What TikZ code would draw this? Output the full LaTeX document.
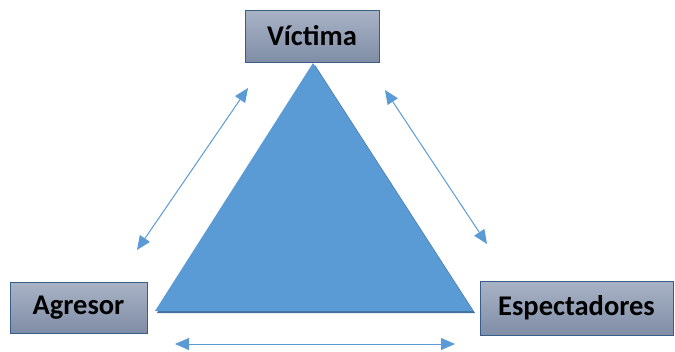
\documentclass[tikz,border=0pt]{standalone}
\usepackage{fontspec}
\setmainfont{Carlito}
\usepackage{tikz}
\usetikzlibrary{arrows.meta}
\definecolor{triblue}{HTML}{5B9BD5}
\definecolor{tridark}{HTML}{41719C}
\definecolor{boxtop}{HTML}{A9B3C6}
\definecolor{boxbot}{HTML}{7F8DA6}
\definecolor{boxline}{HTML}{385D8A}
\tikzstyle{rolebox} = [draw=boxline, line width=0.8pt, top color=boxtop, bottom color=boxbot, inner sep=0pt, font=\bfseries\fontsize{28.5}{32}\selectfont]
\tikzstyle{arrow} = [triblue, line width=1pt, {Triangle[length=14pt,width=12pt]}-{Triangle[length=14pt,width=12pt]}]

\begin{document}
\begin{tikzpicture}[x=1pt,y=-1pt]
\useasboundingbox (0,0) rectangle (675,351);

% triangle
\coordinate (top) at (313,63);
\coordinate (left) at (155,311);
\coordinate (right) at (473,311);
\fill[tridark] ([shift={(2,2)}]top) -- ([shift={(2,2)}]right) -- ([shift={(2,2)}]left) -- cycle;
\fill[triblue] (top) -- (right) -- (left) -- cycle;

% roles
\node[rolebox, minimum width=134pt, minimum height=52pt] (victima) at (312,36) {Víctima};
\node[rolebox, minimum width=137pt, minimum height=51pt] (agresor) at (78.5,307.5) {Agresor};
\node[rolebox, minimum width=193pt, minimum height=54pt] (espect) at (576.5,308) {Espectadores};

% arrows
\coordinate (a1) at (248,88);
\coordinate (a2) at (137,250);
\coordinate (b1) at (385,90);
\coordinate (b2) at (487,244);
\coordinate (c1) at (175,344);
\coordinate (c2) at (455,344);
\draw[arrow] (a1) -- (a2);
\draw[arrow] (b1) -- (b2);
\draw[arrow] (c1) -- (c2);
\end{tikzpicture}
\end{document}
